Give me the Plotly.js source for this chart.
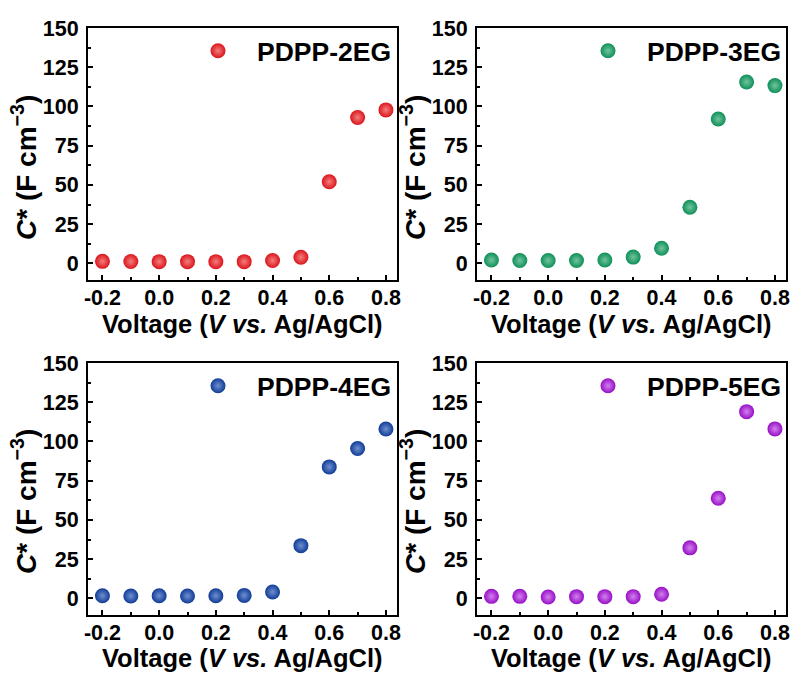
<!DOCTYPE html>
<html>
<head>
<meta charset="utf-8">
<script src="https://cdn.plot.ly/plotly-3.0.1.min.js"></script>
<style>html,body{margin:0;padding:0;background:#fff;}#chart{width:794px;height:673px;}</style>
</head>
<body>
<div id="chart"></div>
<script>
// ---- data ----
const voltage = [-0.2, -0.1, 0.0, 0.1, 0.2, 0.3, 0.4, 0.5, 0.6, 0.7, 0.8];
const c2EG = [1.3, 1.2, 1.1, 1.1, 1.1, 1.1, 1.8, 3.9, 52.0, 93.0, 97.8];
const c3EG = [2.1, 1.8, 1.8, 1.8, 2.1, 4.0, 9.6, 35.8, 92.0, 115.6, 113.3];
const c4EG = [1.7, 1.5, 1.7, 1.5, 1.7, 1.9, 4.1, 33.6, 83.8, 95.5, 107.9];
const c5EG = [1.3, 1.3, 0.9, 1.1, 1.1, 1.1, 2.6, 32.2, 63.8, 119.0, 108.0];
const seriesNames = ['PDPP-2EG', 'PDPP-3EG', 'PDPP-4EG', 'PDPP-5EG'];
const seriesValues = [c2EG, c3EG, c4EG, c5EG];
const seriesColors = ['#dc141b', '#0e8f58', '#103c96', '#9610c6'];
const seriesHighlights = ['#f27e7e', '#72c49e', '#708fd0', '#d480ee'];
const xTickVals = [-0.2, 0, 0.2, 0.4, 0.6, 0.8];
const xTickText = ['-0.2', '0.0', '0.2', '0.4', '0.6', '0.8'];
const yTickVals = [0, 25, 50, 75, 100, 125, 150];
const xTitle = 'Voltage (<i>V vs.</i> Ag/AgCl)';
const yTitle = '<i>C</i>* (F cm<sup>−3</sup>)';

// ---- layout geometry ----
const W = 794, H = 673;
const xDomains = [[88 / W, 397 / W], [477 / W, 786 / W], [88 / W, 397 / W], [477 / W, 786 / W]];
const yDomains = [[1 - 280 / H, 1 - 28 / H], [1 - 280 / H, 1 - 28 / H], [1 - 615 / H, 1 - 363 / H], [1 - 615 / H, 1 - 363 / H]];
const legendPos = [[218, 51], [608, 51], [218, 386], [608, 386]];
const yTitlePos = [[24, 168], [413, 168], [24, 502], [413, 502]];
// x title placement: [paper y, anchor]
const xTitlePlace = [[1 - 309 / H, 'top'], [1 - 309 / H, 'top'], [0, 'bottom'], [0, 'bottom']];

const fontFam = 'Liberation Sans, Arial, sans-serif';
const traces = [];
const layout = {
  width: W, height: H,
  margin: {l: 0, r: 0, t: 0, b: 0},
  paper_bgcolor: '#ffffff', plot_bgcolor: '#ffffff',
  font: {family: fontFam, color: '#000', size: 21, weight: 'bold'},
  showlegend: true,
  annotations: []
};

for (let i = 0; i < 4; i++) {
  const n = i === 0 ? '' : String(i + 1);
  const lg = i === 0 ? 'legend' : 'legend' + (i + 1);
  traces.push({
    type: 'scatter', mode: 'markers',
    x: voltage, y: seriesValues[i],
    name: seriesNames[i],
    xaxis: 'x' + n, yaxis: 'y' + n,
    legend: lg,
    marker: {
      size: 15, color: seriesColors[i],
      gradient: {type: 'radial', color: seriesHighlights[i]},
      line: {width: 0}
    },
    cliponaxis: false
  });
  const axCommon = {
    showline: true, mirror: true, linewidth: 2, linecolor: '#000',
    ticks: 'inside', ticklen: 5, tickwidth: 2, tickcolor: '#000',
    showgrid: false, zeroline: false,
    tickfont: {family: fontFam, size: 21.5, weight: 'bold', color: '#000'}
  };
  layout['xaxis' + n] = Object.assign({}, axCommon, {
    domain: xDomains[i], anchor: 'y' + n,
    range: [-0.251, 0.839], tickmode: 'array',
    tickvals: xTickVals, ticktext: xTickText,
    ticklabelstandoff: -3,
    minor: {tickvals: [-0.1, 0.1, 0.3, 0.5, 0.7], ticks: 'inside', ticklen: 3, tickwidth: 2, tickcolor: '#000'}
  });
  layout['yaxis' + n] = Object.assign({}, axCommon, {
    domain: yDomains[i], anchor: 'x' + n,
    range: [-10.6, 150], tickmode: 'array',
    tickvals: yTickVals,
    minor: {tickvals: [12.5, 37.5, 62.5, 87.5, 112.5, 137.5], ticks: 'inside', ticklen: 3, tickwidth: 2, tickcolor: '#000'},
    ticklabelstandoff: 3
  });
  layout.annotations.push({
    text: yTitle, textangle: -90, showarrow: false,
    xref: 'paper', yref: 'paper',
    x: yTitlePos[i][0] / W, y: 1 - yTitlePos[i][1] / H,
    xanchor: 'center', yanchor: 'middle',
    font: {family: fontFam, size: 28, weight: 'bold', color: '#000'}
  });
  layout.annotations.push({
    text: xTitle, showarrow: false,
    xref: 'paper', yref: 'paper',
    x: (xDomains[i][0] + xDomains[i][1]) / 2, y: xTitlePlace[i][0],
    xanchor: 'center', yanchor: xTitlePlace[i][1],
    borderpad: 0,
    font: {family: fontFam, size: 25.5, weight: 'bold', color: '#000'}
  });
  layout[lg] = {
    x: (legendPos[i][0] - 39) / W, xanchor: 'left',
    y: 1 - legendPos[i][1] / H, yanchor: 'middle',
    bgcolor: 'rgba(0,0,0,0)', borderwidth: 0,
    itemwidth: 68,
    font: {family: fontFam, size: 26.5, weight: 'bold', color: '#000'}
  };
}

Plotly.newPlot('chart', traces, layout, {displayModeBar: false, staticPlot: true});
</script>
</body>
</html>
